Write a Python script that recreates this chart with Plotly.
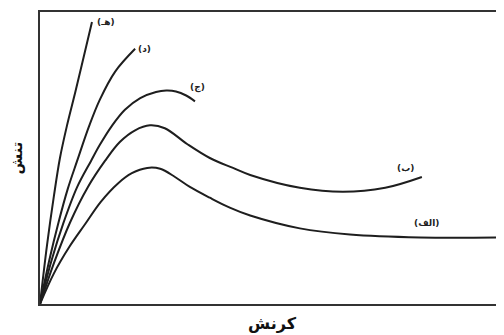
import plotly.graph_objects as go

# strain / stress (arbitrary units, 0-100)
strain_e = [0, 1.5, 3.0, 4.3, 5.8, 7.6, 9.4, 11.2]
stress_e = [0, 20.0, 37.0, 50.0, 61.0, 72.5, 84.5, 96.6]

strain_d = [0, 2.0, 4.0, 6.0, 8.0, 10.6, 12.9, 16.2, 20.5]
stress_d = [0, 15.0, 28.0, 39.5, 49.0, 61.0, 70.0, 79.6, 87.4]

strain_c = [0, 2.5, 5.0, 8.0, 11.0, 12.9, 15.5, 18.3, 21.6, 25.0, 27.2, 29.3, 31.5, 33.4]
stress_c = [0, 15.0, 27.5, 40.0, 49.0, 54.5, 61.0, 66.5, 70.5, 72.6, 73.1, 72.8, 71.4, 69.4]

strain_b = [0, 3.0, 6.5, 10.3, 14.0, 17.2, 20.5, 23.7, 26.9, 31.7, 36.6, 41.6, 45.3, 56.0, 65.3, 74.4, 82.3]
stress_b = [0, 14.0, 28.0, 40.0, 49.0, 55.5, 59.5, 61.2, 60.2, 54.8, 50.0, 46.6, 44.2, 39.8, 38.4, 39.8, 43.5]

strain_a = [0, 3.0, 6.3, 9.7, 13.1, 16.8, 19.8, 23.1, 25.9, 29.1, 32.3, 36.6, 40.9, 45.3, 56.0, 66.8, 81.9, 100]
stress_a = [0, 10.5, 19.5, 27.3, 35.0, 41.3, 44.8, 46.6, 46.3, 43.5, 40.1, 36.4, 33.0, 30.3, 25.9, 23.8, 22.8, 22.8]

labels = ["(هـ)", "(د)", "(ج)", "(ب)", "(الف)"]
label_x = [14.2, 22.6, 34.0, 78.7, 83.4]
label_y = [96.6, 87.4, 74.0, 46.6, 27.6]

curves = [(strain_e, stress_e), (strain_d, stress_d), (strain_c, stress_c),
          (strain_b, stress_b), (strain_a, stress_a)]

fig = go.Figure()

for xs, ys in curves:
    fig.add_trace(go.Scatter(x=xs, y=ys, mode="lines",
                             line=dict(color="#1e1e1e", width=2, shape="spline", smoothing=1.0),
                             showlegend=False, hoverinfo="skip"))

for t, lx, ly in zip(labels, label_x, label_y):
    fig.add_annotation(x=lx, y=ly, text="<b>" + t + "</b>", showarrow=False,
                       font=dict(family="DejaVu Sans", size=9, color="#222"))

# the page body has an 8px margin, so the frame is shifted up/left by 8px
fig.update_layout(
    width=504, height=335,
    margin=dict(l=32, r=8, t=2, b=39),
    paper_bgcolor="white", plot_bgcolor="white",
    font=dict(family="DejaVu Sans", color="#111"),
    xaxis=dict(range=[0, 100], showline=True, mirror=True, linecolor="#333", linewidth=2,
               showgrid=False, zeroline=False, showticklabels=False, ticks="",
               title=dict(text="<b>کرنش</b>", font=dict(size=16), standoff=13)),
    yaxis=dict(range=[0, 100], showline=True, linecolor="#333", linewidth=2,
               showgrid=False, zeroline=False, showticklabels=False, ticks="",
               title=dict(text="<b>تنش</b>", font=dict(size=15), standoff=16)),
)

fig.write_html("out.html")
